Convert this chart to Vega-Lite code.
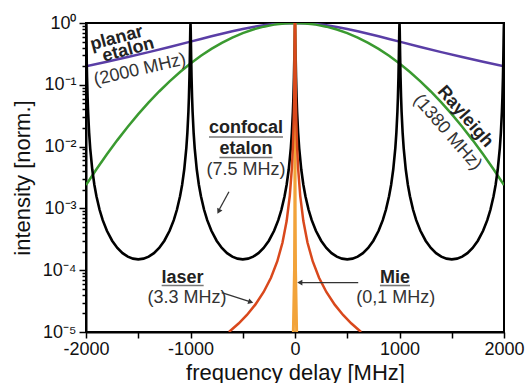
{
  "$schema": "https://vega.github.io/schema/vega-lite/v6.json",
  "width": 418,
  "height": 309,
  "autosize": "none",
  "padding": {"left": 86, "top": 23, "right": 21, "bottom": 51},
  "background": "white",
  "config": {
    "font": "Liberation Sans",
    "view": {"stroke": "black", "strokeWidth": 2},
    "axis": {"domainColor": "black", "domainWidth": 2, "tickColor": "black", "tickWidth": 1.5, "labelColor": "#111", "titleColor": "#111", "labelFont": "Liberation Sans", "titleFont": "Liberation Sans", "titleFontWeight": "normal", "grid": false}
  },
  "datasets": {
    "planar": [
      {"x": -2000, "y": 0.2}, {"x": -1800, "y": 0.2358}, {"x": -1600, "y": 0.2809}, {"x": -1400, "y": 0.3378}, {"x": -1200, "y": 0.4098},
      {"x": -1000, "y": 0.5}, {"x": -900, "y": 0.5525}, {"x": -800, "y": 0.6098}, {"x": -700, "y": 0.6711}, {"x": -600, "y": 0.7353},
      {"x": -500, "y": 0.8}, {"x": -400, "y": 0.8621}, {"x": -300, "y": 0.9174}, {"x": -200, "y": 0.9615}, {"x": -100, "y": 0.9901},
      {"x": 0, "y": 1},
      {"x": 100, "y": 0.9901}, {"x": 200, "y": 0.9615}, {"x": 300, "y": 0.9174}, {"x": 400, "y": 0.8621}, {"x": 500, "y": 0.8},
      {"x": 600, "y": 0.7353}, {"x": 700, "y": 0.6711}, {"x": 800, "y": 0.6098}, {"x": 900, "y": 0.5525}, {"x": 1000, "y": 0.5},
      {"x": 1200, "y": 0.4098}, {"x": 1400, "y": 0.3378}, {"x": 1600, "y": 0.2809}, {"x": 1800, "y": 0.2358}, {"x": 2000, "y": 0.2}
    ],
    "rayleigh": [
      {"x": -2000, "y": 0.002382}, {"x": -1900, "y": 0.004291}, {"x": -1800, "y": 0.007504}, {"x": -1700, "y": 0.01273}, {"x": -1600, "y": 0.02095},
      {"x": -1500, "y": 0.03346}, {"x": -1400, "y": 0.0518}, {"x": -1300, "y": 0.0779}, {"x": -1200, "y": 0.1137}, {"x": -1100, "y": 0.1609},
      {"x": -1000, "y": 0.2209}, {"x": -900, "y": 0.2943}, {"x": -800, "y": 0.3805}, {"x": -700, "y": 0.4772}, {"x": -600, "y": 0.5807},
      {"x": -500, "y": 0.6856}, {"x": -400, "y": 0.7854}, {"x": -300, "y": 0.8729}, {"x": -200, "y": 0.9414}, {"x": -100, "y": 0.985},
      {"x": 0, "y": 1},
      {"x": 100, "y": 0.985}, {"x": 200, "y": 0.9414}, {"x": 300, "y": 0.8729}, {"x": 400, "y": 0.7854}, {"x": 500, "y": 0.6856},
      {"x": 600, "y": 0.5807}, {"x": 700, "y": 0.4772}, {"x": 800, "y": 0.3805}, {"x": 900, "y": 0.2943}, {"x": 1000, "y": 0.2209},
      {"x": 1100, "y": 0.1609}, {"x": 1200, "y": 0.1137}, {"x": 1300, "y": 0.0779}, {"x": 1400, "y": 0.0518}, {"x": 1500, "y": 0.03346},
      {"x": 1600, "y": 0.02095}, {"x": 1700, "y": 0.01273}, {"x": 1800, "y": 0.007504}, {"x": 1900, "y": 0.004291}, {"x": 2000, "y": 0.002382}
    ],
    "confocal": [
      {"x": -2000, "y": 1}, {"x": -1998, "y": 0.7917}, {"x": -1996, "y": 0.4872}, {"x": -1994, "y": 0.2969}, {"x": -1990, "y": 0.132},
      {"x": -1985, "y": 0.06333}, {"x": -1980, "y": 0.03665}, {"x": -1970, "y": 0.01666}, {"x": -1960, "y": 0.00946}, {"x": -1940, "y": 0.004254},
      {"x": -1920, "y": 0.00242}, {"x": -1900, "y": 0.001569}, {"x": -1870, "y": 0.00095}, {"x": -1840, "y": 0.000646}, {"x": -1800, "y": 0.000434},
      {"x": -1750, "y": 0.0003}, {"x": -1700, "y": 0.000229}, {"x": -1650, "y": 0.000189}, {"x": -1600, "y": 0.000166}, {"x": -1550, "y": 0.000154},
      {"x": -1500, "y": 0.00015},
      {"x": -1450, "y": 0.000154}, {"x": -1400, "y": 0.000166}, {"x": -1350, "y": 0.000189}, {"x": -1300, "y": 0.000229}, {"x": -1250, "y": 0.0003},
      {"x": -1200, "y": 0.000434}, {"x": -1160, "y": 0.000646}, {"x": -1130, "y": 0.00095}, {"x": -1100, "y": 0.001569}, {"x": -1080, "y": 0.00242},
      {"x": -1060, "y": 0.004254}, {"x": -1040, "y": 0.00946}, {"x": -1030, "y": 0.01666}, {"x": -1020, "y": 0.03665}, {"x": -1015, "y": 0.06333},
      {"x": -1010, "y": 0.132}, {"x": -1006, "y": 0.2969}, {"x": -1004, "y": 0.4872}, {"x": -1002, "y": 0.7917}, {"x": -1000, "y": 1},
      {"x": -998, "y": 0.7917}, {"x": -996, "y": 0.4872}, {"x": -994, "y": 0.2969}, {"x": -990, "y": 0.132},
      {"x": -985, "y": 0.06333}, {"x": -980, "y": 0.03665}, {"x": -970, "y": 0.01666}, {"x": -960, "y": 0.00946}, {"x": -940, "y": 0.004254},
      {"x": -920, "y": 0.00242}, {"x": -900, "y": 0.001569}, {"x": -870, "y": 0.00095}, {"x": -840, "y": 0.000646}, {"x": -800, "y": 0.000434},
      {"x": -750, "y": 0.0003}, {"x": -700, "y": 0.000229}, {"x": -650, "y": 0.000189}, {"x": -600, "y": 0.000166}, {"x": -550, "y": 0.000154},
      {"x": -500, "y": 0.00015},
      {"x": -450, "y": 0.000154}, {"x": -400, "y": 0.000166}, {"x": -350, "y": 0.000189}, {"x": -300, "y": 0.000229}, {"x": -250, "y": 0.0003},
      {"x": -200, "y": 0.000434}, {"x": -160, "y": 0.000646}, {"x": -130, "y": 0.00095}, {"x": -100, "y": 0.001569}, {"x": -80, "y": 0.00242},
      {"x": -60, "y": 0.004254}, {"x": -40, "y": 0.00946}, {"x": -30, "y": 0.01666}, {"x": -20, "y": 0.03665}, {"x": -15, "y": 0.06333},
      {"x": -10, "y": 0.132}, {"x": -6, "y": 0.2969}, {"x": -4, "y": 0.4872}, {"x": -2, "y": 0.7917}, {"x": 0, "y": 1},
      {"x": 2, "y": 0.7917}, {"x": 4, "y": 0.4872}, {"x": 6, "y": 0.2969}, {"x": 10, "y": 0.132},
      {"x": 15, "y": 0.06333}, {"x": 20, "y": 0.03665}, {"x": 30, "y": 0.01666}, {"x": 40, "y": 0.00946}, {"x": 60, "y": 0.004254},
      {"x": 80, "y": 0.00242}, {"x": 100, "y": 0.001569}, {"x": 130, "y": 0.00095}, {"x": 160, "y": 0.000646}, {"x": 200, "y": 0.000434},
      {"x": 250, "y": 0.0003}, {"x": 300, "y": 0.000229}, {"x": 350, "y": 0.000189}, {"x": 400, "y": 0.000166}, {"x": 450, "y": 0.000154},
      {"x": 500, "y": 0.00015},
      {"x": 550, "y": 0.000154}, {"x": 600, "y": 0.000166}, {"x": 650, "y": 0.000189}, {"x": 700, "y": 0.000229}, {"x": 750, "y": 0.0003},
      {"x": 800, "y": 0.000434}, {"x": 840, "y": 0.000646}, {"x": 870, "y": 0.00095}, {"x": 900, "y": 0.001569}, {"x": 920, "y": 0.00242},
      {"x": 940, "y": 0.004254}, {"x": 960, "y": 0.00946}, {"x": 970, "y": 0.01666}, {"x": 980, "y": 0.03665}, {"x": 985, "y": 0.06333},
      {"x": 990, "y": 0.132}, {"x": 994, "y": 0.2969}, {"x": 996, "y": 0.4872}, {"x": 998, "y": 0.7917}, {"x": 1000, "y": 1},
      {"x": 1002, "y": 0.7917}, {"x": 1004, "y": 0.4872}, {"x": 1006, "y": 0.2969}, {"x": 1010, "y": 0.132},
      {"x": 1015, "y": 0.06333}, {"x": 1020, "y": 0.03665}, {"x": 1030, "y": 0.01666}, {"x": 1040, "y": 0.00946}, {"x": 1060, "y": 0.004254},
      {"x": 1080, "y": 0.00242}, {"x": 1100, "y": 0.001569}, {"x": 1130, "y": 0.00095}, {"x": 1160, "y": 0.000646}, {"x": 1200, "y": 0.000434},
      {"x": 1250, "y": 0.0003}, {"x": 1300, "y": 0.000229}, {"x": 1350, "y": 0.000189}, {"x": 1400, "y": 0.000166}, {"x": 1450, "y": 0.000154},
      {"x": 1500, "y": 0.00015},
      {"x": 1550, "y": 0.000154}, {"x": 1600, "y": 0.000166}, {"x": 1650, "y": 0.000189}, {"x": 1700, "y": 0.000229}, {"x": 1750, "y": 0.0003},
      {"x": 1800, "y": 0.000434}, {"x": 1840, "y": 0.000646}, {"x": 1870, "y": 0.00095}, {"x": 1900, "y": 0.001569}, {"x": 1920, "y": 0.00242},
      {"x": 1940, "y": 0.004254}, {"x": 1960, "y": 0.00946}, {"x": 1970, "y": 0.01666}, {"x": 1980, "y": 0.03665}, {"x": 1985, "y": 0.06333},
      {"x": 1990, "y": 0.132}, {"x": 1994, "y": 0.2969}, {"x": 1996, "y": 0.4872}, {"x": 1998, "y": 0.7917}, {"x": 2000, "y": 1}
    ],
    "laser": [
      {"x": -632, "y": 0.00001}, {"x": -540, "y": 0.00001372}, {"x": -460, "y": 0.0000189}, {"x": -380, "y": 0.0000277}, {"x": -300, "y": 0.00004444},
      {"x": -230, "y": 0.00007561}, {"x": -170, "y": 0.0001384}, {"x": -120, "y": 0.0002777}, {"x": -80, "y": 0.0006246}, {"x": -50, "y": 0.0015974},
      {"x": -30, "y": 0.004425}, {"x": -20, "y": 0.009901}, {"x": -12, "y": 0.02703}, {"x": -8, "y": 0.05882}, {"x": -5, "y": 0.1379},
      {"x": -3, "y": 0.3077}, {"x": -2, "y": 0.5}, {"x": -1, "y": 0.8}, {"x": 0, "y": 1},
      {"x": 1, "y": 0.8}, {"x": 2, "y": 0.5}, {"x": 3, "y": 0.3077}, {"x": 5, "y": 0.1379}, {"x": 8, "y": 0.05882},
      {"x": 12, "y": 0.02703}, {"x": 20, "y": 0.009901}, {"x": 30, "y": 0.004425}, {"x": 50, "y": 0.0015974}, {"x": 80, "y": 0.0006246},
      {"x": 120, "y": 0.0002777}, {"x": 170, "y": 0.0001384}, {"x": 230, "y": 0.00007561}, {"x": 300, "y": 0.00004444}, {"x": 380, "y": 0.0000277},
      {"x": 460, "y": 0.0000189}, {"x": 540, "y": 0.00001372}, {"x": 632, "y": 0.00001}
    ],
    "mie": [
      {"x": -15.8, "y": 0.00001}, {"x": -5, "y": 0.0001}, {"x": -1.58, "y": 0.001}, {"x": -0.5, "y": 0.0099}, {"x": -0.15, "y": 0.1},
      {"x": -0.05, "y": 0.5}, {"x": 0, "y": 1}, {"x": 0.05, "y": 0.5}, {"x": 0.15, "y": 0.1}, {"x": 0.5, "y": 0.0099},
      {"x": 1.58, "y": 0.001}, {"x": 5, "y": 0.0001}, {"x": 15.8, "y": 0.00001}
    ],
    "boldH": [
      {"x": -469, "y": 0.02, "label": "confocal"},
      {"x": -469, "y": 0.00914, "label": "etalon"},
      {"x": -1077, "y": 0.000074, "label": "laser"},
      {"x": 957, "y": 0.000074, "label": "Mie"}
    ],
    "normalH": [
      {"x": -469, "y": 0.00418, "label": "(7.5 MHz)"},
      {"x": -1034, "y": 0.0000351, "label": "(3.3 MHz)"},
      {"x": 965, "y": 0.0000351, "label": "(0,1 MHz)"}
    ],
    "planarBold": [
      {"x": -1706, "y": 0.565, "label": "planar"},
      {"x": -1595, "y": 0.366, "label": "etalon"}
    ],
    "planarNormal": [
      {"x": -1483, "y": 0.174, "label": "(2000 MHz)"}
    ],
    "rayBold": [
      {"x": 1627, "y": 0.0305, "label": "Rayleigh"}
    ],
    "rayNormal": [
      {"x": 1457, "y": 0.017, "label": "(1380 MHz)"}
    ],
    "underlines": [
      {"x": -823, "x2": -115, "y": 0.01429},
      {"x": -723, "x2": -215, "y": 0.00667},
      {"x": -1276, "x2": -874, "y": 0.0000565},
      {"x": 813, "x2": 1100, "y": 0.0000565}
    ],
    "arrows": [
      {"x": -632, "y": 0.00186, "x2": -722, "y2": 0.00098},
      {"x": -701, "y": 0.0000432, "x2": -440, "y2": 0.0000312},
      {"x": 605, "y": 0.000063, "x2": 60, "y2": 0.000063}
    ],
    "heads": [
      {"x": -727, "y": 0.00092, "dir": 208},
      {"x": -431, "y": 0.0000309, "dir": 108},
      {"x": 54, "y": 0.000063, "dir": 270}
    ]
  },
  "encoding": {
    "x": {
      "field": "x", "type": "quantitative",
      "scale": {"domain": [-2000, 2000], "nice": false, "zero": false},
      "axis": {
        "title": "frequency delay [MHz]",
        "values": [-2000, -1500, -1000, -500, 0, 500, 1000, 1500, 2000],
        "labelExpr": "datum.value % 1000 === 0 ? '' + datum.value : ''",
        "labelFlush": false,
        "labelOverlap": false,
        "tickSize": 6,
        "labelFontSize": 18,
        "labelPadding": 2,
        "titleFontSize": 22,
        "titlePadding": 4
      }
    },
    "y": {
      "field": "y", "type": "quantitative",
      "scale": {"type": "log", "domain": [0.00001, 1], "nice": false},
      "axis": {
        "title": "intensity [norm.]",
        "values": [0.00001, 0.00002, 0.00003, 0.00004, 0.00005, 0.00006, 0.00007, 0.00008, 0.00009,
                   0.0001, 0.0002, 0.0003, 0.0004, 0.0005, 0.0006, 0.0007, 0.0008, 0.0009,
                   0.001, 0.002, 0.003, 0.004, 0.005, 0.006, 0.007, 0.008, 0.009,
                   0.01, 0.02, 0.03, 0.04, 0.05, 0.06, 0.07, 0.08, 0.09,
                   0.1, 0.2, 0.3, 0.4, 0.5, 0.6, 0.7, 0.8, 0.9, 1],
        "labelExpr": "abs(log(datum.value)/LN10 - round(log(datum.value)/LN10)) < 0.001 ? ['10⁻⁵','10⁻⁴','10⁻³','10⁻²','10⁻¹','10⁰'][round(log(datum.value)/LN10) + 5] : ''",
        "labelOverlap": false,
        "labelFontSize": 18,
        "labelPadding": 3,
        "tickSize": {"condition": {"test": "abs(log(datum.value)/LN10 - round(log(datum.value)/LN10)) < 0.001", "value": 7}, "value": 4},
        "titleFontSize": 22,
        "titlePadding": 8
      }
    }
  },
  "layer": [
    {"data": {"name": "planar"}, "mark": {"type": "line", "color": "#5a3ea6", "strokeWidth": 2.5, "clip": true}},
    {"data": {"name": "rayleigh"}, "mark": {"type": "line", "color": "#3a9a30", "strokeWidth": 2.5, "clip": true}},
    {"data": {"name": "confocal"}, "mark": {"type": "line", "color": "#000000", "strokeWidth": 2.6, "clip": true}},
    {"data": {"name": "mie"}, "mark": {"type": "line", "color": "#f2a33a", "strokeWidth": 3, "clip": true}},
    {"data": {"name": "laser"}, "mark": {"type": "line", "color": "#d9481c", "strokeWidth": 2.5, "clip": true}},
    {"data": {"name": "boldH"}, "mark": {"type": "text", "fontSize": 18, "fontWeight": "bold", "color": "#222", "baseline": "middle", "align": "center"}, "encoding": {"text": {"field": "label"}}},
    {"data": {"name": "normalH"}, "mark": {"type": "text", "fontSize": 18, "color": "#333", "baseline": "middle", "align": "center"}, "encoding": {"text": {"field": "label"}}},
    {"data": {"name": "planarBold"}, "mark": {"type": "text", "fontSize": 18, "fontWeight": "bold", "color": "#222", "baseline": "middle", "align": "center", "angle": 345}, "encoding": {"text": {"field": "label"}}},
    {"data": {"name": "planarNormal"}, "mark": {"type": "text", "fontSize": 18, "color": "#333", "baseline": "middle", "align": "center", "angle": 347}, "encoding": {"text": {"field": "label"}}},
    {"data": {"name": "rayBold"}, "mark": {"type": "text", "fontSize": 18, "fontWeight": "bold", "color": "#222", "baseline": "middle", "align": "center", "angle": 49}, "encoding": {"text": {"field": "label"}}},
    {"data": {"name": "rayNormal"}, "mark": {"type": "text", "fontSize": 18, "color": "#333", "baseline": "middle", "align": "center", "angle": 49}, "encoding": {"text": {"field": "label"}}},
    {"data": {"name": "underlines"}, "mark": {"type": "rule", "color": "#777", "strokeWidth": 1.6}, "encoding": {"x2": {"field": "x2"}}},
    {"data": {"name": "arrows"}, "mark": {"type": "rule", "color": "#333", "strokeWidth": 1.3}, "encoding": {"x2": {"field": "x2"}, "y2": {"field": "y2"}}},
    {"data": {"name": "heads"}, "mark": {"type": "point", "shape": "triangle", "filled": true, "color": "#333", "size": 35, "opacity": 1}, "encoding": {"angle": {"field": "dir", "type": "quantitative", "scale": null}}}
  ]
}
